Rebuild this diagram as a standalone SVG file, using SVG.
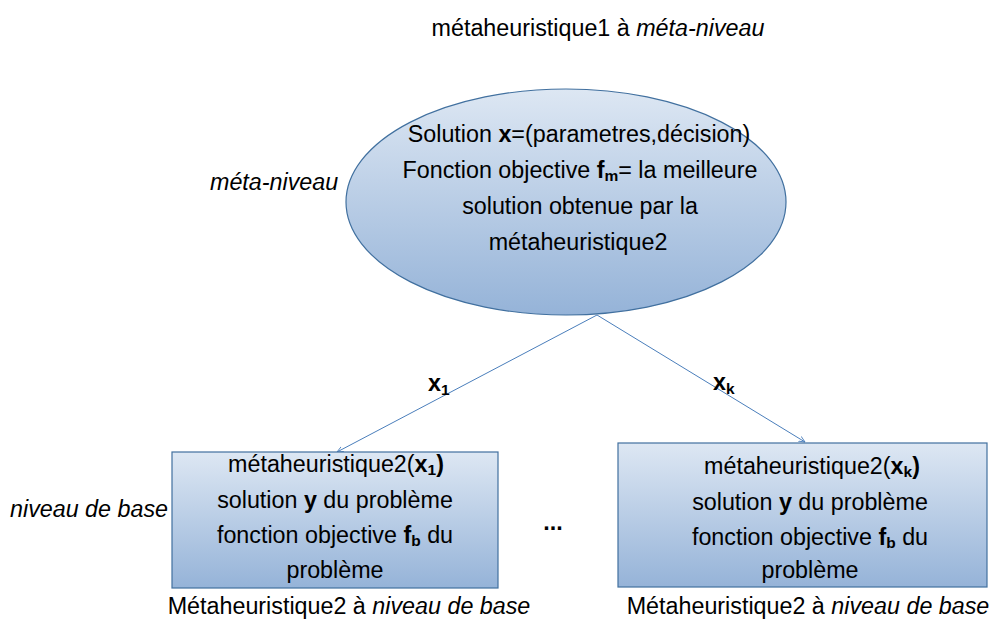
<svg xmlns="http://www.w3.org/2000/svg" width="994" height="620" viewBox="0 0 994 620">
<defs>
<linearGradient id="g" x1="0" y1="0" x2="0" y2="1">
<stop offset="0" stop-color="#dde7f3"/>
<stop offset="1" stop-color="#95b3d8"/>
</linearGradient>
<marker id="ar" viewBox="0 0 10 10" refX="9" refY="5" markerWidth="7" markerHeight="7" orient="auto" markerUnits="userSpaceOnUse">
<path d="M0,1 L9,5 L0,9" fill="none" stroke="#4a7ebb" stroke-width="1.2"/>
</marker>
</defs>
<style>
text{font-family:"Liberation Sans",Arial,sans-serif;font-size:23.3px;fill:#000}
.c{text-anchor:middle}
.i{font-style:italic}
.b{font-weight:bold}
.s{font-size:15.5px;font-weight:bold}
.shape{fill:url(#g);stroke:#41709f;stroke-width:1.2}
.ln{stroke:#4a7ebb;stroke-width:1;fill:none}
</style>
<text class="c" x="598" y="36">métaheuristique1 à <tspan class="i">méta-niveau</tspan></text>
<text class="i" x="210" y="190">méta-niveau</text>
<text class="i" x="10" y="517">niveau de base</text>
<g id="connectors">
<line class="ln" x1="597" y1="315" x2="337" y2="452" marker-end="url(#ar)"/>
<line class="ln" x1="597" y1="315" x2="805" y2="442" marker-end="url(#ar)"/>
<text class="b" x="428" y="391">x<tspan class="s" dy="4">1</tspan></text>
<text class="b" x="713" y="390">x<tspan class="s" dy="4">k</tspan></text>
</g>
<g id="meta">
<ellipse class="shape" cx="566" cy="202" rx="220" ry="113"/>
<text class="c" x="579" y="142">Solution <tspan class="b">x</tspan>=(parametres,décision)</text>
<text class="c" x="580" y="178">Fonction objective <tspan class="b">f</tspan><tspan class="s" dy="3">m</tspan><tspan dy="-3">= la meilleure</tspan></text>
<text class="c" x="580" y="214">solution obtenue par la</text>
<text class="c" x="578" y="250">métaheuristique2</text>
</g>
<g id="base1">
<rect class="shape" x="172" y="452" width="326" height="136"/>
<text class="c" x="336" y="472">métaheuristique2(<tspan class="b">x</tspan><tspan class="s" dy="3">1</tspan><tspan dy="-3" class="b">)</tspan></text>
<text class="c" x="335" y="508">solution <tspan class="b">y</tspan> du problème</text>
<text class="c" x="335" y="543">fonction objective <tspan class="b">f</tspan><tspan class="s" dy="3">b</tspan><tspan dy="-3"> du</tspan></text>
<text class="c" x="335" y="578">problème</text>
<text class="c" x="349" y="614">Métaheuristique2 à <tspan class="i">niveau de base</tspan></text>
</g>
<text class="c b" x="553" y="530">...</text>
<g id="basek">
<rect class="shape" x="618" y="443" width="369" height="144"/>
<text class="c" x="812" y="474">métaheuristique2(<tspan class="b">x</tspan><tspan class="s" dy="3">k</tspan><tspan dy="-3" class="b">)</tspan></text>
<text class="c" x="810" y="510">solution <tspan class="b">y</tspan> du problème</text>
<text class="c" x="810" y="545">fonction objective <tspan class="b">f</tspan><tspan class="s" dy="3">b</tspan><tspan dy="-3"> du</tspan></text>
<text class="c" x="810" y="578">problème</text>
<text class="c" x="808" y="614">Métaheuristique2 à <tspan class="i">niveau de base</tspan></text>
</g>
</svg>
